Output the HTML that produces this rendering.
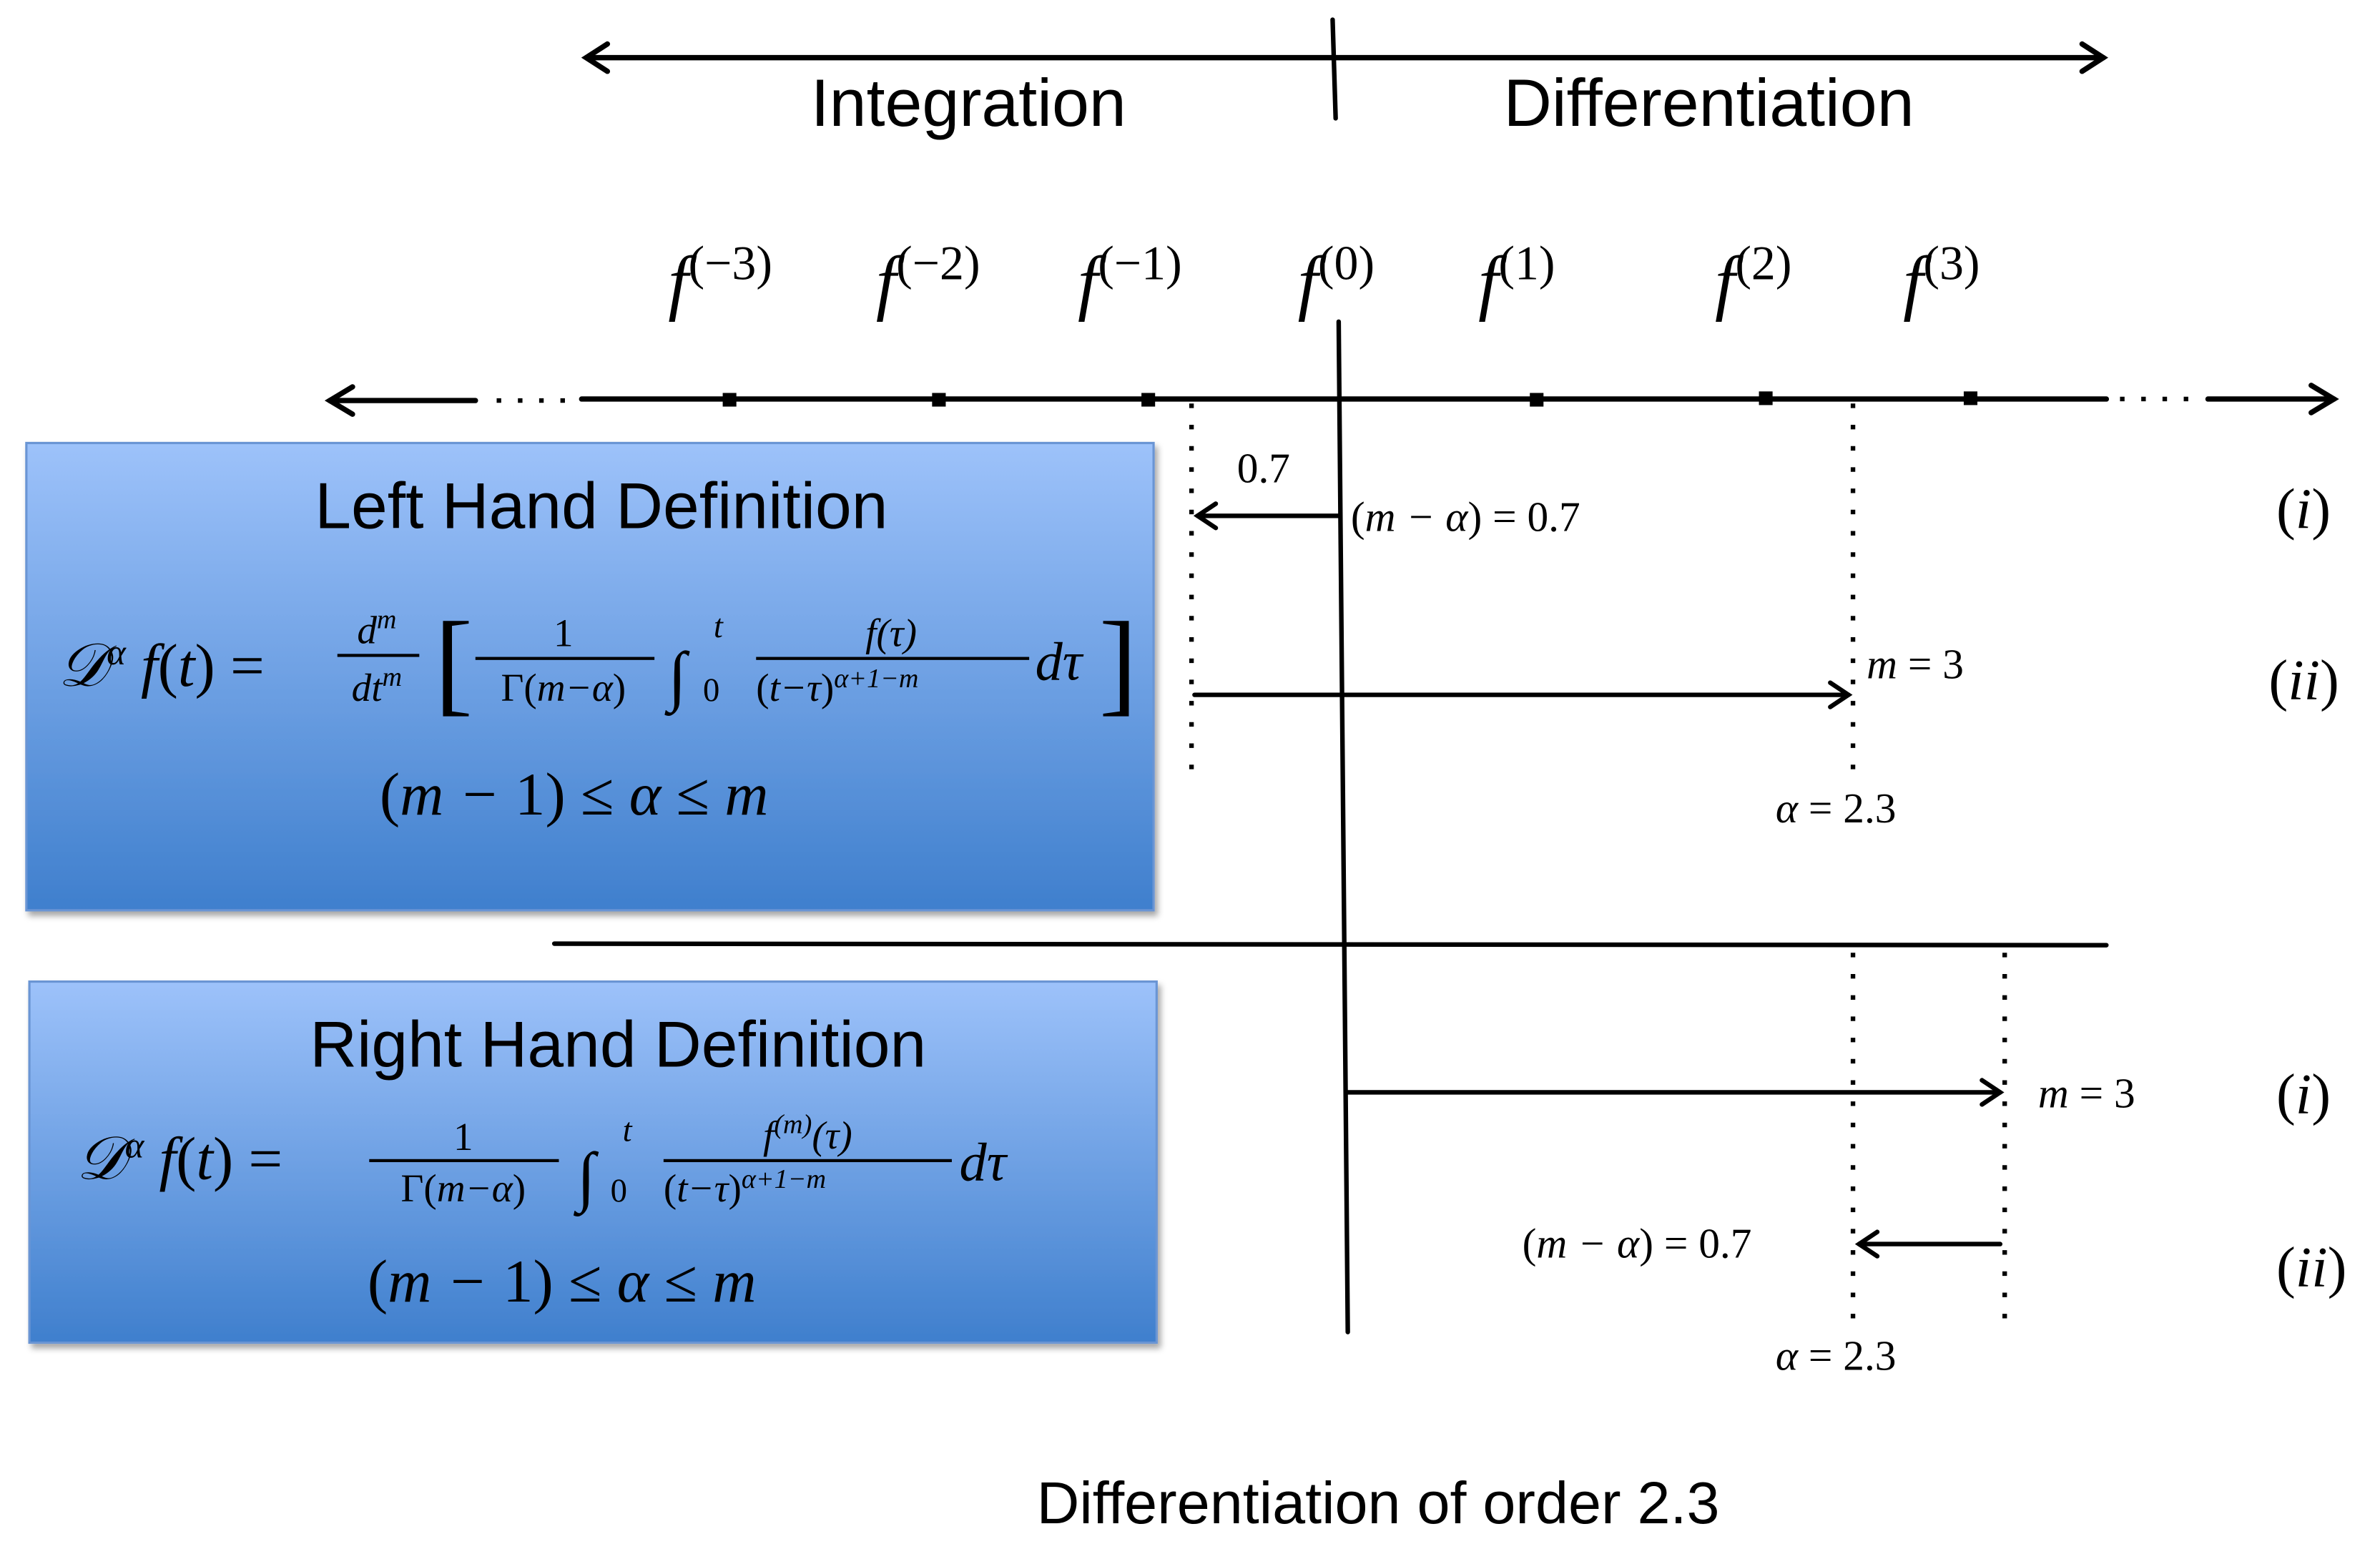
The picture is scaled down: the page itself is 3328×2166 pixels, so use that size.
<!DOCTYPE html>
<html><head><meta charset="utf-8"><style>
html,body{margin:0;padding:0;background:#fff;}
svg{display:block;}
.s{font-family:"Liberation Sans",sans-serif;}
.m{font-family:"Liberation Serif",serif;font-style:italic;}
.r{font-family:"Liberation Serif",serif;}
</style></head><body>
<svg width="3328" height="2166" viewBox="0 0 1568 1021" xmlns="http://www.w3.org/2000/svg">
<defs>
<linearGradient id="g" x1="0" y1="0" x2="0" y2="1">
<stop offset="0" stop-color="#9dc2fa"/><stop offset="1" stop-color="#3f7fcd"/>
</linearGradient>
<filter id="sh" x="-5%" y="-5%" width="110%" height="115%"><feDropShadow dx="2" dy="3" stdDeviation="2" flood-color="#000" flood-opacity="0.35"/></filter>
</defs>
<g stroke="#000" fill="none" stroke-width="3.5" stroke-linecap="round">
<!-- top arrow -->
<line x1="387" y1="38" x2="1386" y2="38"/>
<polyline points="400,29 386,38 400,47"/>
<polyline points="1372,29 1386,38 1372,47"/>
<line x1="878" y1="13" x2="880" y2="78" stroke-width="3"/>
<!-- number line -->
<line x1="217" y1="264" x2="313" y2="264"/>
<polyline points="232,255 217,264 232,273"/>
<line x1="383" y1="263" x2="1388" y2="263"/>
<line x1="1455" y1="263" x2="1538" y2="263"/>
<polyline points="1523,254 1538,263 1523,272"/>
<!-- center vertical -->
<line x1="882" y1="212" x2="888" y2="878" stroke-width="3"/>
<!-- separator -->
<line x1="365" y1="622" x2="1388" y2="623" stroke-width="3"/>
<!-- arrows -->
<line x1="882" y1="340" x2="789" y2="340" stroke-width="3"/>
<polyline points="801,332 789,340 801,348" stroke-width="3"/>
<line x1="787" y1="458" x2="1218" y2="458" stroke-width="3"/>
<polyline points="1206,450 1218,458 1206,466" stroke-width="3"/>
<line x1="887" y1="720" x2="1318" y2="720" stroke-width="3"/>
<polyline points="1306,712 1318,720 1306,728" stroke-width="3"/>
<line x1="1318" y1="820" x2="1225" y2="820" stroke-width="3"/>
<polyline points="1237,812 1225,820 1237,828" stroke-width="3"/>
</g>
<g stroke="#000" stroke-width="3" stroke-dasharray="3 11" fill="none">
<line x1="327" y1="264" x2="378" y2="264"/>
<line x1="1397" y1="263" x2="1448" y2="263"/>
<line x1="785" y1="266" x2="785" y2="515"/>
<line x1="1221" y1="266" x2="1221" y2="512"/>
<line x1="1221" y1="628" x2="1221" y2="880"/>
<line x1="1321" y1="628" x2="1321" y2="880"/>
</g>
<g fill="#000">
<rect x="476" y="259" width="9" height="9"/><rect x="614" y="259" width="9" height="9"/>
<rect x="752" y="259" width="9" height="9"/><rect x="1008" y="259" width="9" height="9"/>
<rect x="1159" y="258" width="9" height="9"/><rect x="1294" y="258" width="9" height="9"/>
</g>
<text class="s" x="638" y="83" font-size="44" text-anchor="middle">Integration</text>
<text class="s" x="1126" y="83" font-size="44" text-anchor="middle">Differentiation</text>
<g class="m" font-size="48">
<text x="440" y="202">f<tspan class="r" font-style="normal" font-size="32" dy="-18">(−3)</tspan></text>
<text x="577" y="202">f<tspan class="r" font-style="normal" font-size="32" dy="-18">(−2)</tspan></text>
<text x="710" y="202">f<tspan class="r" font-style="normal" font-size="32" dy="-18">(−1)</tspan></text>
<text x="855" y="202">f<tspan class="r" font-style="normal" font-size="32" dy="-18">(0)</tspan></text>
<text x="974" y="202">f<tspan class="r" font-style="normal" font-size="32" dy="-18">(1)</tspan></text>
<text x="1130" y="202">f<tspan class="r" font-style="normal" font-size="32" dy="-18">(2)</tspan></text>
<text x="1254" y="202">f<tspan class="r" font-style="normal" font-size="32" dy="-18">(3)</tspan></text>
</g>
<!-- boxes -->
<rect x="17" y="292" width="743" height="308" fill="url(#g)" stroke="#6a95d4" stroke-width="1.5" filter="url(#sh)"/>
<rect x="19" y="647" width="743" height="238" fill="url(#g)" stroke="#6a95d4" stroke-width="1.5" filter="url(#sh)"/>
<text class="s" x="396" y="348" font-size="43" text-anchor="middle">Left Hand Definition</text>
<text class="s" x="407" y="703" font-size="43" text-anchor="middle">Right Hand Definition</text>
<!-- left formula -->
<g fill="#000">
<text class="m" x="38" y="452" font-size="40">𝒟<tspan font-size="24" dy="-14">α</tspan><tspan dy="14"> f</tspan><tspan class="r" font-style="normal">(</tspan>t<tspan class="r" font-style="normal">) =</tspan></text>
<text class="m" x="248" y="424" font-size="26" text-anchor="middle">d<tspan font-size="18" dy="-10">m</tspan></text>
<rect x="222" y="431" width="54" height="2"/>
<text class="m" x="248" y="462" font-size="26" text-anchor="middle">dt<tspan font-size="18" dy="-10">m</tspan></text>
<text class="r" x="286" y="462" font-size="76" transform="scale(1,1)">[</text>
<text class="r" x="371" y="426" font-size="26" text-anchor="middle">1</text>
<rect x="313" y="433" width="118" height="2"/>
<text class="m" x="371" y="462" font-size="26" text-anchor="middle"><tspan class="r" font-style="normal">Γ(</tspan>m−α<tspan class="r" font-style="normal">)</tspan></text>
<text class="r" x="440" y="460" font-size="44">∫</text>
<text class="m" x="470" y="420" font-size="22">t</text>
<text class="r" x="463" y="462" font-size="22">0</text>
<text class="m" x="587" y="426" font-size="26" text-anchor="middle">f(τ)</text>
<rect x="498" y="433" width="180" height="2"/>
<text class="m" x="498" y="462" font-size="26"><tspan class="r" font-style="normal">(</tspan>t−τ<tspan class="r" font-style="normal">)</tspan><tspan font-size="18" dy="-9">α+1−m</tspan></text>
<text class="m" x="682" y="448" font-size="36">dτ</text>
<text class="r" x="724" y="462" font-size="76">]</text>
<text class="m" x="378" y="537" font-size="40" text-anchor="middle"><tspan class="r" font-style="normal">(</tspan>m − <tspan class="r" font-style="normal">1) ≤ </tspan>α<tspan class="r" font-style="normal"> ≤ </tspan>m</text>
<!-- right formula -->
<text class="m" x="50" y="777" font-size="40">𝒟<tspan font-size="24" dy="-14">α</tspan><tspan dy="14"> f</tspan><tspan class="r" font-style="normal">(</tspan>t<tspan class="r" font-style="normal">) =</tspan></text>
<text class="r" x="305" y="758" font-size="26" text-anchor="middle">1</text>
<rect x="243" y="764" width="125" height="2"/>
<text class="m" x="305" y="792" font-size="26" text-anchor="middle"><tspan class="r" font-style="normal">Γ(</tspan>m−α<tspan class="r" font-style="normal">)</tspan></text>
<text class="r" x="380" y="790" font-size="44">∫</text>
<text class="m" x="410" y="752" font-size="22">t</text>
<text class="r" x="402" y="792" font-size="22">0</text>
<text class="m" x="532" y="757" font-size="26" text-anchor="middle">f<tspan font-size="18" dy="-10">(m)</tspan><tspan dy="10">(τ)</tspan></text>
<rect x="437" y="764" width="190" height="2"/>
<text class="m" x="437" y="792" font-size="26"><tspan class="r" font-style="normal">(</tspan>t−τ<tspan class="r" font-style="normal">)</tspan><tspan font-size="18" dy="-9">α+1−m</tspan></text>
<text class="m" x="632" y="778" font-size="36">dτ</text>
<text class="m" x="370" y="858" font-size="40" text-anchor="middle"><tspan class="r" font-style="normal">(</tspan>m − <tspan class="r" font-style="normal">1) ≤ </tspan>α<tspan class="r" font-style="normal"> ≤ </tspan>m</text>
</g>
<!-- labels -->
<g class="m" font-size="28" fill="#000">
<text class="r" font-style="normal" x="815" y="318">0.7</text>
<text x="890" y="350"><tspan class="r" font-style="normal">(</tspan>m − α<tspan class="r" font-style="normal">) = 0.7</tspan></text>
<text x="1230" y="447">m<tspan class="r" font-style="normal"> = 3</tspan></text>
<text x="1170" y="542">α<tspan class="r" font-style="normal"> = 2.3</tspan></text>
<text x="1343" y="730">m<tspan class="r" font-style="normal"> = 3</tspan></text>
<text x="1003" y="829"><tspan class="r" font-style="normal">(</tspan>m − α<tspan class="r" font-style="normal">) = 0.7</tspan></text>
<text x="1170" y="903">α<tspan class="r" font-style="normal"> = 2.3</tspan></text>
</g>
<g class="m" font-size="38" fill="#000">
<text x="1500" y="348"><tspan class="r" font-style="normal">(</tspan>i<tspan class="r" font-style="normal">)</tspan></text>
<text x="1495" y="461"><tspan class="r" font-style="normal">(</tspan>ii<tspan class="r" font-style="normal">)</tspan></text>
<text x="1500" y="734"><tspan class="r" font-style="normal">(</tspan>i<tspan class="r" font-style="normal">)</tspan></text>
<text x="1500" y="848"><tspan class="r" font-style="normal">(</tspan>ii<tspan class="r" font-style="normal">)</tspan></text>
</g>
<text class="s" x="908" y="1004" font-size="39" text-anchor="middle">Differentiation of order 2.3</text>
</svg>
</body></html>
